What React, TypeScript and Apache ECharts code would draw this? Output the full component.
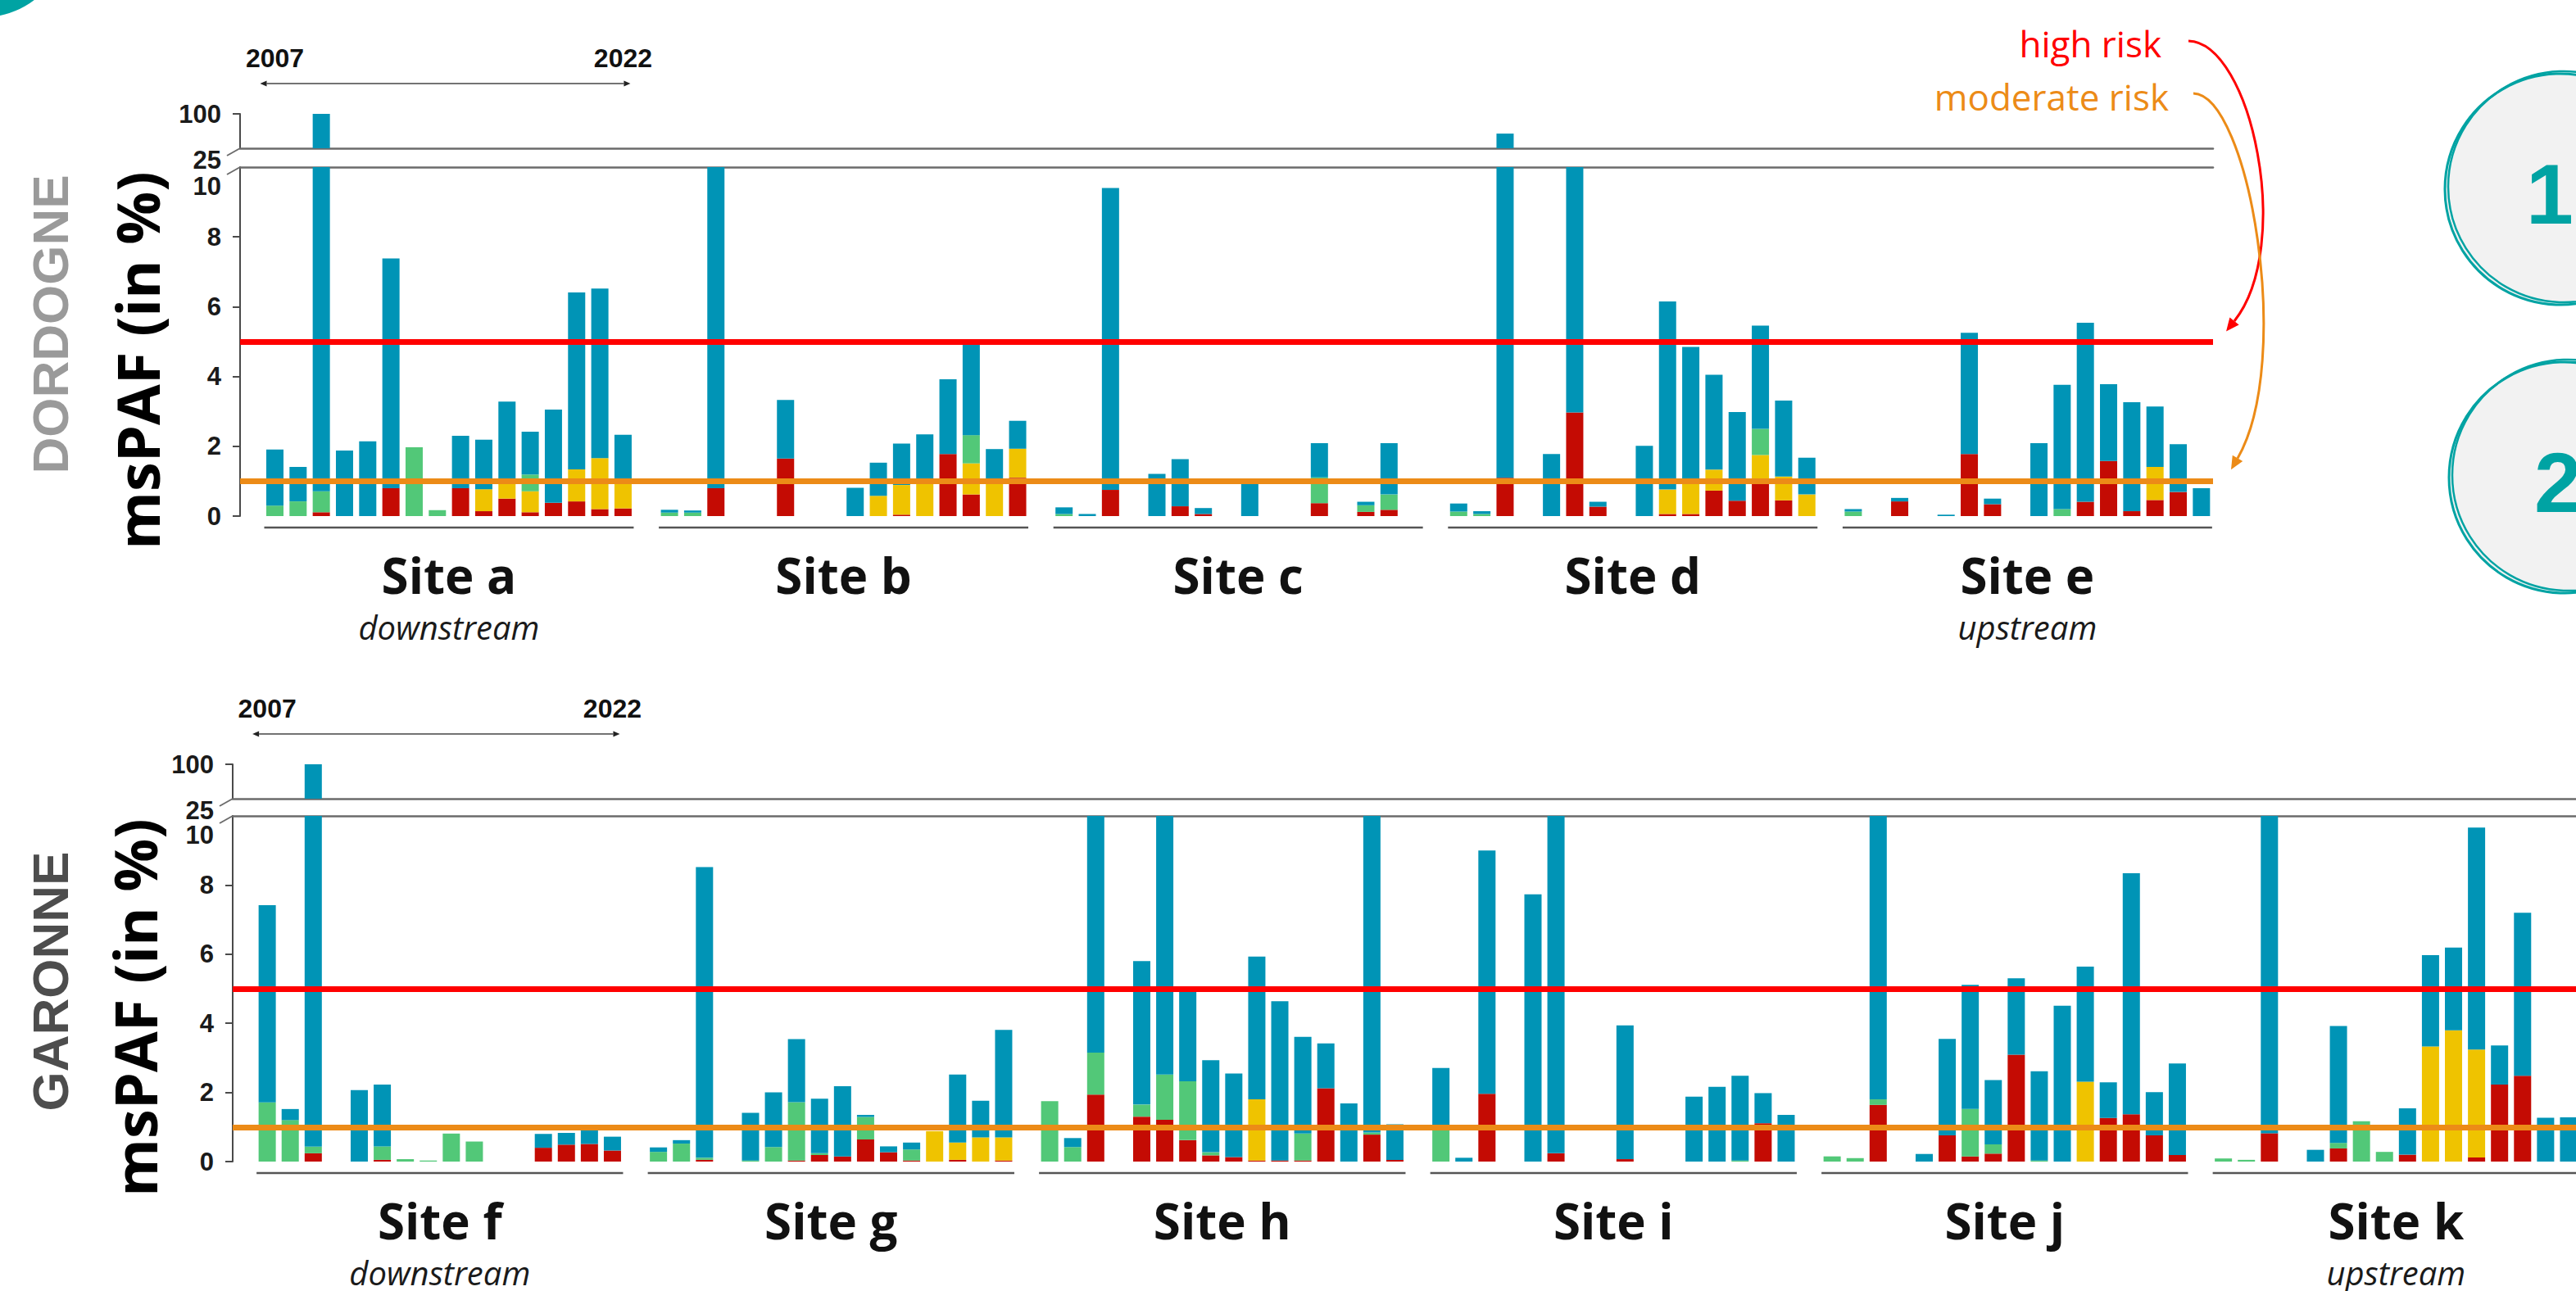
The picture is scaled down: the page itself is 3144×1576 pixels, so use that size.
import React, { useEffect, useRef } from "react";
import * as echarts from "echarts";

// ---------------- data ----------------
const YEARS = ["2007", "2008", "2009", "2010", "2011", "2012", "2013", "2014", "2015", "2016", "2017", "2018", "2019", "2020", "2021", "2022"];

const DORDOGNE_SITES = ["Site a", "Site b", "Site c", "Site d", "Site e"];
const DORDOGNE_POSITION = ["downstream", "", "", "", "upstream"];
const GARONNE_SITES = ["Site f", "Site g", "Site h", "Site i", "Site j", "Site k"];
const GARONNE_POSITION = ["downstream", "", "", "", "", "upstream"];

const LOWER_TICKS = [0, 2, 4, 6, 8, 10];
const UPPER_TICKS = [25, 100];
const HIGH_RISK = 5;
const MODERATE_RISK = 1;

// msPAF (%) contributions, stacked bottom -> top: red, yellow, green, blue. One row per site (2007 -> 2022)
const D_RED: number[][] = [
  [0, 0, 0.11, 0, 0, 0.8, 0, 0, 0.8, 0.14, 0.5, 0.11, 0.38, 0.42, 0.2, 0.22],
  [0, 0, 0.8, 0, 0, 1.65, 0, 0, 0, 0, 0.04, 0, 1.78, 0.62, 0, 1.1],
  [0, 0, 0.75, 0, 0, 0.28, 0.06, 0, 0, 0, 0, 0.37, 0, 0.12, 0.18, 0],
  [0, 0, 1.1, 0, 0, 2.97, 0.27, 0, 0, 0.06, 0.06, 0.73, 0.44, 1.06, 0.45, 0],
  [0, 0, 0.42, 0, 0, 1.78, 0.34, 0, 0, 0, 0.41, 1.58, 0.14, 0.46, 0.69, 0],
];
const D_YELLOW: number[][] = [
  [0, 0, 0, 0, 0, 0, 0, 0, 0, 0.63, 0.48, 0.6, 0, 0.92, 1.46, 0.77],
  [0, 0, 0, 0, 0, 0, 0, 0, 0, 0.58, 0.85, 0.98, 0, 0.89, 1.02, 0.83],
  [0, 0, 0, 0, 0, 0, 0, 0, 0, 0, 0, 0, 0, 0, 0, 0],
  [0, 0, 0, 0, 0, 0, 0, 0, 0, 0.7, 0.96, 0.6, 0, 0.69, 0.68, 0.62],
  [0, 0, 0, 0, 0, 0, 0, 0, 0, 0, 0, 0, 0, 0.95, 0, 0],
];
const D_GREEN: number[][] = [
  [0.3, 0.42, 0.6, 0, 0, 0, 1.97, 0.17, 0, 0, 0, 0.48, 0, 0, 0, 0],
  [0.1, 0.1, 0, 0, 0, 0, 0, 0, 0, 0, 0, 0, 0, 0.81, 0, 0],
  [0.06, 0, 0, 0, 0, 0, 0, 0, 0, 0, 0, 0.74, 0, 0.19, 0.44, 0],
  [0.13, 0.06, 0, 0, 0, 0, 0, 0, 0, 0, 0, 0, 0, 0.75, 0, 0],
  [0.13, 0, 0, 0, 0, 0, 0, 0, 0, 0.2, 0, 0, 0, 0, 0, 0],
];
const D_BLUE: number[][] = [
  [1.61, 0.99, 99.29, 1.88, 2.14, 6.58, 0, 0, 1.5, 1.42, 2.3, 1.23, 2.67, 5.07, 4.86, 1.34],
  [0.08, 0.06, 15.2, 0, 0, 1.68, 0, 0, 0.81, 0.95, 1.19, 1.36, 2.14, 2.7, 0.9, 0.8],
  [0.19, 0.06, 8.65, 0, 1.21, 1.35, 0.17, 0, 1.02, 0, 0, 0.98, 0, 0.1, 1.47, 0],
  [0.23, 0.08, 55.9, 0, 1.78, 13, 0.14, 0, 2.01, 5.39, 3.83, 2.72, 2.54, 2.96, 2.18, 1.05],
  [0.07, 0, 0.1, 0, 0.04, 3.47, 0.16, 0, 2.09, 3.56, 5.13, 2.2, 3.12, 1.73, 1.37, 0.8],
];

const G_RED: number[][] = [
  [0, 0, 0.24, 0, 0, 0.05, 0, 0, 0, 0, 0, 0, 0.4, 0.49, 0.51, 0.32],
  [0, 0, 0.05, 0, 0, 0, 0.03, 0.19, 0.15, 0.64, 0.27, 0.03, 0, 0.05, 0, 0.03],
  [0, 0, 1.94, 0, 1.3, 1.21, 0.62, 0.18, 0.13, 0.03, 0.03, 0.03, 2.12, 0, 0.78, 0.05],
  [0, 0, 1.96, 0, 0, 0.24, 0, 0, 0.07, 0, 0, 0, 0, 0, 1.11, 0],
  [0, 0, 1.64, 0, 0, 0.76, 0.15, 0.23, 3.09, 0, 0, 0, 1.26, 1.37, 0.76, 0.19],
  [0, 0, 0.82, 0, 0, 0.38, 0, 0, 0.2, 0, 0, 0.12, 2.23, 2.48, 0, 0],
];
const G_YELLOW: number[][] = [
  [0, 0, 0, 0, 0, 0, 0, 0, 0, 0, 0, 0, 0, 0, 0, 0],
  [0, 0, 0, 0, 0, 0, 0, 0, 0, 0, 0, 0, 0.88, 0.5, 0.7, 0.67],
  [0, 0, 0, 0, 0, 0, 0, 0, 0, 1.77, 0, 0, 0, 0, 0, 0],
  [0, 0, 0, 0, 0, 0, 0, 0, 0, 0, 0, 0, 0, 0, 0, 0],
  [0, 0, 0, 0, 0, 0, 0, 0, 0, 0, 0, 2.31, 0, 0, 0, 0],
  [0, 0, 0, 0, 0, 0, 0, 0, 0, 3.33, 3.8, 3.12, 0, 0, 0, 0],
];
const G_GREEN: number[][] = [
  [1.71, 1.2, 0.19, 0, 0, 0.39, 0.07, 0.03, 0.81, 0.58, 0, 0, 0, 0, 0, 0],
  [0.28, 0.52, 0.06, 0, 0.03, 0.42, 1.69, 0.05, 0, 0.65, 0, 0.32, 0, 0, 0, 0],
  [1.75, 0.42, 1.21, 0, 0.35, 1.31, 1.7, 0.09, 0, 0, 0, 0.78, 0, 0, 0.06, 0],
  [0.95, 0, 0, 0, 0, 0, 0, 0, 0, 0, 0, 0, 0, 0.03, 0, 0],
  [0.15, 0.1, 0.16, 0, 0, 0, 1.37, 0.27, 0, 0.03, 0, 0, 0, 0, 0, 0],
  [0.09, 0.05, 0, 0, 0, 0.16, 1.17, 0.28, 0, 0, 0, 0, 0, 0, 0, 0],
];
const G_BLUE: number[][] = [
  [5.71, 0.32, 99.57, 0, 2.07, 1.79, 0, 0, 0, 0, 0, 0, 0.4, 0.34, 0.43, 0.4],
  [0.13, 0.1, 8.41, 0, 1.38, 1.58, 1.82, 1.58, 2.03, 0.06, 0.17, 0.2, 0, 1.97, 1.06, 3.11],
  [0, 0.26, 12, 0, 4.15, 12, 2.63, 2.66, 2.42, 4.13, 4.61, 2.8, 1.3, 1.68, 14, 1.03],
  [1.76, 0.11, 7.04, 0, 7.73, 14, 0, 0, 3.87, 0, 0, 1.88, 2.16, 2.45, 0.87, 1.35],
  [0, 0, 13, 0, 0.22, 2.79, 3.59, 1.86, 2.21, 2.58, 4.51, 3.33, 1.03, 6.97, 1.25, 2.65],
  [0, 0, 14, 0, 0.34, 3.38, 0, 0, 1.34, 2.64, 2.39, 6.42, 1.13, 4.72, 1.27, 1.28],
];

// ---------------- styles / layout ----------------
const COLORS = { red: "#c40b03", yellow: "#efc300", green: "#52c878", blue: "#0094b6" };
const HIGH_COLOR = "#ff0000";
const MOD_COLOR = "#ec8b17";
const AXIS_COLOR = "#4a4a4a";
const BREAK_COLOR = "#6b6b6b";
const TICK_FONT = "'Liberation Sans', Arial, sans-serif";
const TITLE_FONT = "'Open Sans', 'Noto Sans', sans-serif";

const D_LEFT = 293;
const D_WIDTH = 2408;
const G_LEFT = 284;
const G_WIDTH = 2865;
const GRIDS = [
  { left: D_LEFT, top: 139, width: D_WIDTH, height: 42 },
  { left: D_LEFT, top: 204, width: D_WIDTH, height: 426 },
  { left: G_LEFT, top: 933, width: G_WIDTH, height: 42 },
  { left: G_LEFT, top: 996, width: G_WIDTH, height: 422 },
];

function categories(sites: string[]): string[] {
  const out = ["gap-0"];
  sites.forEach((s, i) => {
    if (i > 0) out.push("gap-" + i);
    YEARS.forEach((y) => out.push(s + " " + y));
  });
  return out;
}
function flatten(rows: number[][]): number[] {
  const out: number[] = [0];
  rows.forEach((r, i) => {
    if (i > 0) out.push(0);
    out.push(...r);
  });
  return out;
}
const catIndex = (site: number, year: number) => 1 + site * (YEARS.length + 1) + year;

function buildSeries(prefix: string, upper: number, lower: number, parts: { name: string; color: string; rows: number[][] }[]) {
  const series: any[] = [];
  [upper, lower].forEach((ax) => {
    parts.forEach((p, k) => {
      const s: any = {
        type: "bar",
        name: p.name,
        xAxisIndex: ax,
        yAxisIndex: ax,
        stack: prefix + "-" + ax,
        barWidth: 21,
        clip: true,
        silent: true,
        emphasis: { disabled: true },
        itemStyle: { color: p.color },
        data: flatten(p.rows),
      };
      if (ax === lower && k === parts.length - 1) {
        s.markLine = {
          silent: true,
          symbol: ["none", "none"],
          label: { show: false },
          emphasis: { disabled: true },
          z: 10,
          data: [
            { yAxis: HIGH_RISK, lineStyle: { color: HIGH_COLOR, width: 7, type: "solid" } },
            { yAxis: MODERATE_RISK, lineStyle: { color: MOD_COLOR, width: 7, type: "solid" } },
          ],
        };
      }
      series.push(s);
    });
  });
  return series;
}

function xAxes(gridIndex: number, cats: string[], position: string) {
  return {
    gridIndex,
    type: "category",
    data: cats,
    position,
    boundaryGap: true,
    axisLine: { show: true, onZero: false, lineStyle: { color: BREAK_COLOR, width: 2.5 } },
    axisTick: { show: false },
    axisLabel: { show: false },
    splitLine: { show: false },
  };
}

const labelBase = { fontFamily: TICK_FONT, fontWeight: "bold", fontSize: 31, color: "#1a1a1a", margin: 23, showMinLabel: true, showMaxLabel: true, hideOverlap: false };

function lowerY(gridIndex: number) {
  return {
    gridIndex,
    type: "value",
    position: "left",
    offset: 0,
    min: LOWER_TICKS[0],
    max: LOWER_TICKS[LOWER_TICKS.length - 1],
    interval: 2,
    axisLine: { show: true, lineStyle: { color: AXIS_COLOR, width: 2 } },
    axisTick: { show: true, length: 9, customValues: LOWER_TICKS.slice(0, -1), lineStyle: { color: AXIS_COLOR, width: 2 } },
    axisLabel: { ...labelBase, lineHeight: 46, formatter: (v: number) => (v === 10 ? "\n10" : String(v)) },
    splitLine: { show: false },
  };
}
// upper segment axis: carries the line, the tick and the "100" label
function upperY(gridIndex: number) {
  return {
    gridIndex,
    type: "value",
    position: "left",
    offset: 0,
    min: UPPER_TICKS[0],
    max: UPPER_TICKS[1],
    axisLine: { show: true, lineStyle: { color: AXIS_COLOR, width: 2 } },
    axisTick: { show: true, length: 9, customValues: [UPPER_TICKS[1]], lineStyle: { color: AXIS_COLOR, width: 2 } },
    axisLabel: { ...labelBase, customValues: [UPPER_TICKS[1]] },
    splitLine: { show: false },
  };
}
// companion axis on the same grid, only for the "25" label (shifted below its break line)
function upperYLow(gridIndex: number) {
  return {
    gridIndex,
    type: "value",
    position: "left",
    offset: 0,
    min: UPPER_TICKS[0],
    max: UPPER_TICKS[1],
    axisLine: { show: false },
    axisTick: { show: false },
    axisLabel: { ...labelBase, customValues: [UPPER_TICKS[0]], lineHeight: 28, formatter: (v: number) => "\n" + String(v) },
    splitLine: { show: false },
  };
}

function buildOption() {
  const dCats = categories(DORDOGNE_SITES);
  const gCats = categories(GARONNE_SITES);
  const dParts = [
    { name: "red", color: COLORS.red, rows: D_RED },
    { name: "yellow", color: COLORS.yellow, rows: D_YELLOW },
    { name: "green", color: COLORS.green, rows: D_GREEN },
    { name: "blue", color: COLORS.blue, rows: D_BLUE },
  ];
  const gParts = [
    { name: "red", color: COLORS.red, rows: G_RED },
    { name: "yellow", color: COLORS.yellow, rows: G_YELLOW },
    { name: "green", color: COLORS.green, rows: G_GREEN },
    { name: "blue", color: COLORS.blue, rows: G_BLUE },
  ];
  return {
    animation: false,
    backgroundColor: "#ffffff",
    grid: GRIDS.map((g) => ({ ...g, containLabel: false, outerBoundsMode: "none" })),
    xAxis: [xAxes(0, dCats, "bottom"), xAxes(1, dCats, "top"), xAxes(2, gCats, "bottom"), xAxes(3, gCats, "top")],
    yAxis: [upperY(0), lowerY(1), upperY(2), lowerY(3), upperYLow(0), upperYLow(2)],
    series: [...buildSeries("d", 0, 1, dParts), ...buildSeries("g", 2, 3, gParts)],
  };
}

function txt(text: string, x: number, y: number, font: string, fill: string, align = "center", rotation = 0) {
  return {
    type: "text",
    x,
    y,
    rotation,
    silent: true,
    style: { text, font, fill, textAlign: align, align, textVerticalAlign: "middle", verticalAlign: "middle" },
  };
}
function line(x1: number, y1: number, x2: number, y2: number, stroke: string, w: number) {
  return { type: "line", silent: true, shape: { x1, y1, x2, y2 }, style: { stroke, lineWidth: w } };
}
function head(x: number, y: number, fx: number, fy: number, size: number, color: string) {
  const dx = x - fx, dy = y - fy;
  const len = Math.hypot(dx, dy) || 1;
  const ux = dx / len, uy = dy / len;
  const px = -uy, py = ux;
  return {
    type: "polygon",
    silent: true,
    shape: {
      points: [
        [x + ux * size, y + uy * size],
        [x + px * size * 0.45, y + py * size * 0.45],
        [x - px * size * 0.45, y - py * size * 0.45],
      ],
    },
    style: { fill: color },
  };
}

function buildGraphics(chart: any) {
  const xp = (ax: number, i: number) => chart.convertToPixel({ xAxisIndex: ax }, i) as number;
  const yp = (ax: number, v: number) => chart.convertToPixel({ yAxisIndex: ax }, v) as number;
  const out: any[] = [];
  out.push({ type: "circle", silent: true, shape: { cx: -20, cy: -80, r: 101 }, style: { fill: "#00a3a3" } });

  const panels = [
    { up: 0, lo: 1, left: D_LEFT, sites: DORDOGNE_SITES, pos: DORDOGNE_POSITION, river: "DORDOGNE", riverColor: "#9a9a9a", riverY: 396, tX: 167, tY: 440 },
    { up: 2, lo: 3, left: G_LEFT, sites: GARONNE_SITES, pos: GARONNE_POSITION, river: "GARONNE", riverColor: "#4d4d4d", riverY: 1198, tX: 164, tY: 1230 },
  ];
  panels.forEach((p) => {
    const y0 = yp(p.lo, 0);
    const y10 = yp(p.lo, 10);
    const y25 = yp(p.up, 25);
    const y100 = yp(p.up, 100);
    // axis break marks
    out.push(line(p.left, y25, p.left - 16, y25 + 9, BREAK_COLOR, 2));
    out.push(line(p.left, y10, p.left - 16, y10 + 9, BREAK_COLOR, 2));
    // sites
    p.sites.forEach((s, i) => {
      const a = xp(p.lo, catIndex(i, 0));
      const b = xp(p.lo, catIndex(i, YEARS.length - 1));
      const cx = (a + b) / 2;
      out.push(line(a - 13, y0 + 14, b + 13, y0 + 14, "#555555", 2.5));
      out.push(txt(s, cx, y0 + 72, `bold 60px ${TITLE_FONT}`, "#111111"));
      if (p.pos[i]) out.push(txt(p.pos[i], cx, y0 + 135, `italic 40px ${TITLE_FONT}`, "#1a1a1a"));
    });
    // year span arrow
    const f0 = xp(p.lo, catIndex(0, 0));
    const f1 = xp(p.lo, catIndex(0, YEARS.length - 1));
    out.push(txt(YEARS[0], f0, y100 - 68, `bold 32px ${TICK_FONT}`, "#111111"));
    out.push(txt(YEARS[YEARS.length - 1], f1, y100 - 68, `bold 32px ${TICK_FONT}`, "#111111"));
    const ay = y100 - 37;
    out.push(line(f0 - 10, ay, f1 + 1, ay, "#444444", 1.5));
    out.push(head(f0 - 10, ay, f0, ay, 8, "#222222"));
    out.push(head(f1 + 1, ay, f1 - 10, ay, 8, "#222222"));
    // titles
    out.push(txt(p.river, 61, p.riverY, `bold 62px ${TICK_FONT}`, p.riverColor, "center", Math.PI / 2));
    out.push(txt("msPAF (in %)", p.tX, p.tY, `bold 72px ${TITLE_FONT}`, "#000000", "center", Math.PI / 2));
  });

  // risk annotations
  out.push(txt("high risk", 2638, 53, `44px ${TITLE_FONT}`, HIGH_COLOR, "right"));
  out.push(txt("moderate risk", 2647, 118, `44px ${TITLE_FONT}`, MOD_COLOR, "right"));
  const yHigh = yp(1, HIGH_RISK);
  const yMod = yp(1, MODERATE_RISK);
  const rEnd = [2727, yHigh - 25];
  const rCp2 = [2800, 300];
  out.push({ type: "bezierCurve", silent: true, shape: { x1: 2671, y1: 50, cpx1: 2748, cpy1: 52, cpx2: rCp2[0], cpy2: rCp2[1], x2: rEnd[0], y2: rEnd[1] }, style: { stroke: HIGH_COLOR, lineWidth: 3, fill: "none" } });
  out.push(head(rEnd[0], rEnd[1], rCp2[0], rCp2[1], 16, HIGH_COLOR));
  const oEnd = [2731, yMod - 28];
  const oCp2 = [2800, 440];
  out.push({ type: "bezierCurve", silent: true, shape: { x1: 2677, y1: 114, cpx1: 2745, cpy1: 116, cpx2: oCp2[0], cpy2: oCp2[1], x2: oEnd[0], y2: oEnd[1] }, style: { stroke: MOD_COLOR, lineWidth: 3, fill: "none" } });
  out.push(head(oEnd[0], oEnd[1], oCp2[0], oCp2[1], 16, MOD_COLOR));

  // numbered circles (right edge)
  [
    { cx: 3125, cy: 231, label: "1", lx: 3112 },
    { cx: 3130, cy: 583, label: "2", lx: 3122 },
  ].forEach((c) => {
    out.push({ type: "circle", silent: true, shape: { cx: c.cx, cy: c.cy, r: 141 }, style: { fill: "#f2f2f2", stroke: "#00a3a3", lineWidth: 3 } });
    out.push({ type: "circle", silent: true, shape: { cx: c.cx + 4, cy: c.cy - 3, r: 141 }, style: { fill: "none", stroke: "#00a3a3", lineWidth: 2.5 } });
    out.push(txt(c.label, c.lx, c.cy + 6, `bold 104px ${TICK_FONT}`, "#00a3a3"));
  });
  return out;
}

export default function App() {
  const ref = useRef<HTMLDivElement>(null);
  useEffect(() => {
    const el = ref.current;
    if (!el) return;
    const chart = echarts.init(el, null, { renderer: "svg" });
    chart.setOption(buildOption() as any);
    chart.setOption({ graphic: { elements: buildGraphics(chart) } } as any);
    return () => chart.dispose();
  }, []);
  return <div ref={ref} style={{ position: "fixed", left: 0, top: 0, width: 3144, height: 1576, background: "#ffffff" }} />;
}
